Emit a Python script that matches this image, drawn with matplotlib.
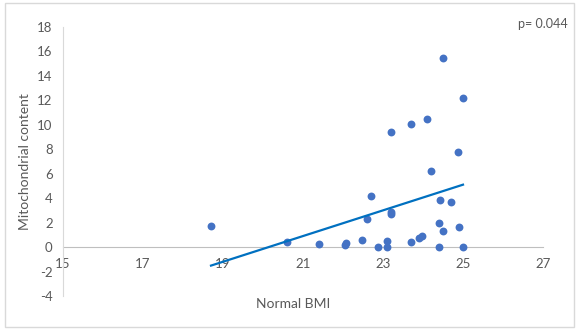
import numpy as np
import matplotlib
matplotlib.use("Agg")
import matplotlib.pyplot as plt
from matplotlib.patches import Rectangle

# Normal-BMI subjects: BMI vs mitochondrial content
bmi = [18.7, 20.6, 21.4, 22.05, 22.08, 22.48, 22.6, 22.69, 22.88, 23.09, 23.09,
       23.19, 23.19, 23.2, 23.69, 23.9, 23.98, 23.7, 24.1, 24.21, 24.42, 24.4,
       24.49, 24.4, 24.69, 24.88, 24.89, 25.0, 24.49, 24.99]
mito = [1.72, 0.41, 0.25, 0.16, 0.33, 0.57, 2.3, 4.2, 0.02, 0.49, 0.02,
        2.89, 2.67, 9.41, 0.44, 0.76, 0.9, 10.07, 10.47, 6.25, 3.82, 1.94,
        1.34, 0.03, 3.65, 7.75, 1.64, 0.03, 15.47, 12.17]

x_ticks = [15, 17, 19, 21, 23, 25, 27]
y_ticks = [-4, -2, 0, 2, 4, 6, 8, 10, 12, 14, 16, 18]
p_label = "p= 0.044"

plt.rcParams["font.family"] = ["Lato", "DejaVu Sans"]
text_grey = "#595959"

fig = plt.figure(figsize=(5.79, 3.29), dpi=100)
fig.patches.append(Rectangle((0.009, 0.006), 0.983, 0.985, transform=fig.transFigure,
                             fill=False, edgecolor="#d9d9d9", linewidth=1.0))

ax = fig.add_axes([63 / 579, 1 - 296 / 329, 480 / 579, 269 / 329])
ax.set_xlim(15, 27)
ax.set_ylim(-4, 18)

ax.scatter(bmi, mito, s=32, color="#4472C4", zorder=3, linewidths=0)

# Linear trend line over the observed BMI range
coef = np.polyfit(bmi, mito, 1)
xs = np.array([min(bmi), max(bmi)])
ax.plot(xs, np.polyval(coef, xs), color="#0070C0", linewidth=1.6, zorder=4)

for side in ["top", "right"]:
    ax.spines[side].set_visible(False)
ax.spines["bottom"].set_position(("data", 0))
ax.spines["bottom"].set_color("#bfbfbf")
ax.spines["left"].set_color("#d9d9d9")
ax.spines["bottom"].set_zorder(1)
ax.set_xticks(x_ticks)
ax.set_yticks(y_ticks)
ax.tick_params(length=0, labelsize=9.5, labelcolor=text_grey, pad=7.5)
ax.set_xticklabels([str(t) for t in x_ticks])
ax.set_yticklabels([str(t) for t in y_ticks])

fig.text(25 / 579, 1 - 162 / 329, "Mitochondrial content", rotation=90,
         ha="center", va="center", fontsize=10, color=text_grey)
fig.text(293 / 579, 1 - 304 / 329, "Normal BMI", ha="center", va="center",
         fontsize=10, color=text_grey)
fig.text(568 / 579, 1 - 24 / 329, p_label, ha="right", va="center",
         fontsize=9, color=text_grey)

fig.savefig("out.png", dpi=100)
